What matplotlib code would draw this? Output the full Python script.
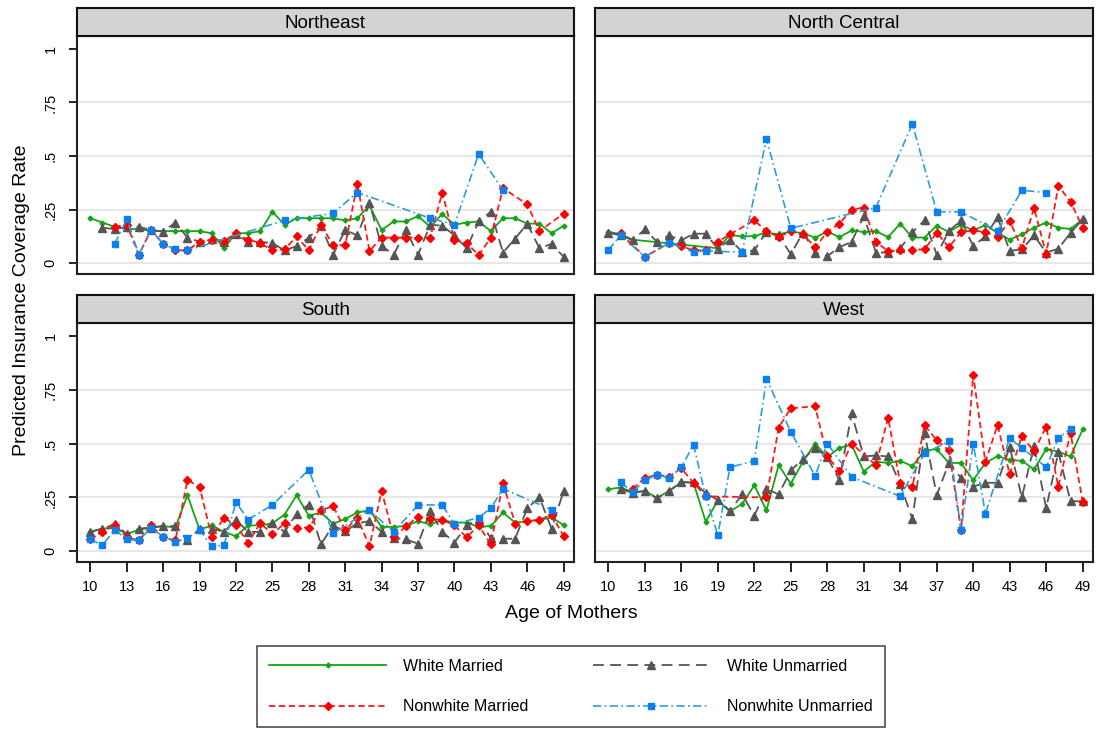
import numpy as np
import matplotlib
matplotlib.use("Agg")
import matplotlib.pyplot as plt

plt.rcParams['font.family'] = ['Liberation Sans', 'DejaVu Sans']

nan = np.nan
ages = list(range(10, 50))
regions = ['Northeast', 'North Central', 'South', 'West']
series_names = ['White Married', 'White Unmarried', 'Nonwhite Married', 'Nonwhite Unmarried']

# Northeast
wm_ne = [.21, .19, .17, .16, .16, .15, .15, .15, .15, .15, .14, .07, .14, .14, .15, .24, .18, .21, .21, .21,
         .21, .20, .21, .27, .155, .195, .195, .22, .17, .23, .18, .19, .195, .15, .21, .21, .185, .185, .14, .175]
wu_ne = [nan, .165, .16, .17, .17, .155, .148, .19, .12, .10, .115, .10, .135, .10, .10, .094, .06, .08, .12, .175,
         .04, .155, .13, .28, .08, .04, .155, .04, .18, .175, .13, .07, .195, .24, .05, .115, .185, .07, .09, .03]
nm_ne = [nan, nan, .17, .18, .04, .155, .09, .06, .06, .10, .11, .105, .14, .11, .095, .06, .065, .125, .06, .18,
         .085, .085, .37, .057, .12, .12, .12, .12, .12, .33, .108, .095, .038, .12, .35, nan, .275, .15, nan, .232]
nu_ne = [nan, nan, .09, .205, .04, .155, .09, .065, .06, nan, nan, nan, nan, nan, nan, nan, .20, nan, nan, nan,
         .233, nan, .33, nan, nan, nan, nan, nan, .21, nan, .18, nan, .51, nan, .34, nan, nan, nan, nan, nan]

# North Central
wm_nc = [.147, .136, .11, nan, nan, nan, nan, nan, nan, .07, .132, .125, .127, .143, .135, .148, .14, .12, .148, .122,
         .153, .146, .15, .122, .185, .12, .12, .175, .146, .18, .153, .178, .143, .11, .135, .166, .19, .166, .16, .205]
wu_nc = [.143, .13, .108, .158, .10, .13, .107, .138, .138, .068, .11, .054, .06, .147, .13, .042, .143, .05, .033, .075,
         .10, .22, .05, .05, .07, .145, .20, .04, .15, .20, .08, .125, .215, .058, .065, .13, .05, .068, .142, .205]
nm_nc = [nan, .14, nan, .03, nan, .095, .08, .06, .06, .10, .135, nan, .20, .15, .122, .15, .136, .075, .146, .185,
         .25, .26, .10, .057, .06, .063, .065, .143, .075, .146, .153, .146, .122, .198, .07, .257, .044, .36, .288, .166]
nu_nc = [.062, .13, nan, .03, nan, .095, nan, .052, .057, nan, nan, .052, nan, .58, nan, .163, nan, nan, nan, nan,
         nan, nan, .26, nan, nan, .65, nan, .24, nan, .24, nan, nan, .15, nan, .34, nan, .33, nan, nan, nan]

# South
wm_s = [.09, .105, .11, .08, .10, .11, .117, .11, .26, .10, .12, .09, .07, .12, .12, .13, .17, .26, .165, .18,
        .128, .15, .18, .19, .113, .113, .117, .14, .125, .145, .133, .133, .113, .117, .18, .133, .14, .145, .157, .122]
wu_s = [.09, .105, .125, .08, .105, .11, .117, .117, .05, .105, .105, .09, .145, .09, .09, .13, .09, .175, .217, .032,
        .12, .092, .13, .14, .09, .06, .055, .035, .185, .09, .04, .12, .148, .06, .058, .058, .20, .25, .105, .28]
nm_s = [.055, .09, .12, .065, .05, .12, .065, .05, .33, .30, .065, .155, .12, .04, .13, .08, .13, .11, .11, .19,
        .21, .098, .155, .023, .28, .065, .116, .16, .15, .145, .12, .065, .12, .032, .317, .128, .14, .145, .17, .07]
nu_s = [.055, .028, .10, .055, .05, .11, .066, .045, .06, .10, .023, .027, .227, .147, nan, .215, nan, nan, .378, nan,
        .083, nan, nan, .19, nan, .09, nan, .215, nan, .215, .126, nan, .156, .20, .29, nan, nan, nan, .193, nan]

# West
wm_w = [.288, .296, .275, .28, .248, .28, .322, .318, .138, .235, .185, .22, .306, .19, .40, .314, .416, .50, .437, .48,
        .495, .37, .416, .41, .42, .395, .468, .474, .41, .41, .33, .41, .442, .424, .42, .38, .474, .463, .44, .566]
wu_w = [nan, .29, .27, .28, .245, .28, .32, .32, .27, .238, .188, .264, .165, .29, .264, .375, .427, .48, .437, .33,
        .64, .44, .445, .44, .31, .15, .55, .26, .41, .34, .30, .318, .318, .485, .25, .49, .20, .46, .232, .232]
nm_w = [nan, nan, .29, .34, .355, .347, .385, .318, .255, nan, nan, nan, nan, .25, .574, .664, nan, .673, .44, .374,
        .50, nan, .40, .62, .315, .30, .585, .515, .468, .10, .82, .415, .585, .358, .535, .464, .578, .30, .55, .23]
nu_w = [nan, .32, .275, .33, .355, .34, .39, .495, .255, .075, .39, nan, .42, .80, nan, .555, nan, .35, .50, nan,
        .345, nan, nan, nan, .255, nan, .455, nan, .51, .097, .50, .175, nan, .525, .48, nan, .39, .525, .57, nan]

panel_data = [
    [wm_ne, wu_ne, nm_ne, nu_ne],
    [wm_nc, wu_nc, nm_nc, nu_nc],
    [wm_s, wu_s, nm_s, nu_s],
    [wm_w, wu_w, nm_w, nu_w],
]

# line / marker style for each series
styles = [
    dict(color='#16a516', ls='-', lw=1.3, marker='D', ms=2.5, mfc='#16a516', mec='#16a516'),
    dict(color='#555555', ls=(0, (6, 3.5)), lw=1.3, marker='^', ms=5.5, mfc='#555555', mec='#555555'),
    dict(color='#ff1a1a', ls=(0, (3.5, 2)), lw=1.3, marker='D', ms=4.5, mfc='#ff0000', mec='#ff0000'),
    dict(color='#2a9fd6', ls=(0, (5, 2, 1, 2)), lw=1.2, marker='s', ms=5, mfc='#0a7ff0', mec='#0a7ff0'),
]

W, H = 1098, 730
fig = plt.figure(figsize=(W / 100, H / 100), dpi=100)

# pixel boxes: (left, right, top, bottom) for plot area; header above it
plot_boxes = [(77, 574, 36, 274), (595, 1093, 36, 274), (77, 574, 323, 562), (595, 1093, 323, 562)]
header_h = 28

ticks_x = list(range(10, 50, 3))
lines = []
for i, (l, r, t, b) in enumerate(plot_boxes):
    ax = fig.add_axes([l / W, 1 - b / H, (r - l) / W, (b - t) / H])
    for vals, st in zip(panel_data[i], styles):
        y = np.array(vals, dtype=float)
        x = np.array(ages)
        ok = ~np.isnan(y)
        ln, = ax.plot(x[ok], y[ok], **st)
        if i == 0:
            lines.append(ln)
    ax.set_xlim(8.9, 49.85)
    ax.set_ylim(-0.05, 1.06)
    for g in [0, .25, .5, .75]:
        ax.axhline(g, color='#e3e3e3', lw=1.2, zorder=0)
    for s in ax.spines.values():
        s.set_linewidth(1.5)
        s.set_color('#222222')
    ax.set_yticks([0, .25, .5, .75, 1])
    if i % 2 == 0:
        ax.set_yticklabels(['0', '.25', '.5', '.75', '1'], rotation=90, va='center', fontsize=10.5)
        ax.tick_params(axis='y', length=6, width=1.2, pad=8)
    else:
        ax.tick_params(axis='y', length=0, labelleft=False)
    ax.set_xticks(ticks_x)
    if i >= 2:
        ax.tick_params(axis='x', length=7, width=1.2, labelsize=10.5, pad=6)
    else:
        ax.tick_params(axis='x', length=0, labelbottom=False)

    # gray title strip
    hx = fig.add_axes([l / W, 1 - t / H, (r - l) / W, header_h / H])
    hx.set_facecolor('#d3d3d3')
    hx.set_xticks([])
    hx.set_yticks([])
    for s in hx.spines.values():
        s.set_linewidth(1.5)
        s.set_color('#111111')
    hx.text(0.5, 0.45, regions[i], ha='center', va='center', fontsize=13.5, transform=hx.transAxes)

fig.text(22 / W, 1 - 300 / H, 'Predicted Insurance Coverage Rate', rotation=90,
         ha='center', va='center', fontsize=14)
fig.text(571 / W, 1 - 614 / H, 'Age of Mothers', ha='center', va='center', fontsize=14)

# legend fills column by column, so order entries to get married/unmarried in rows
order = [0, 2, 1, 3]
leg = fig.legend([lines[k] for k in order], [series_names[k] for k in order],
                 loc='upper center', bbox_to_anchor=(571 / W, 1 - 638 / H),
                 ncol=2, fontsize=11.5, handlelength=7.3, columnspacing=4.0, labelspacing=1.6,
                 borderpad=0.8, handletextpad=1.1, frameon=True, fancybox=False, numpoints=1)
leg.get_frame().set_edgecolor('#222222')
leg.get_frame().set_linewidth(1.2)

fig.savefig('out.png', dpi=100)
